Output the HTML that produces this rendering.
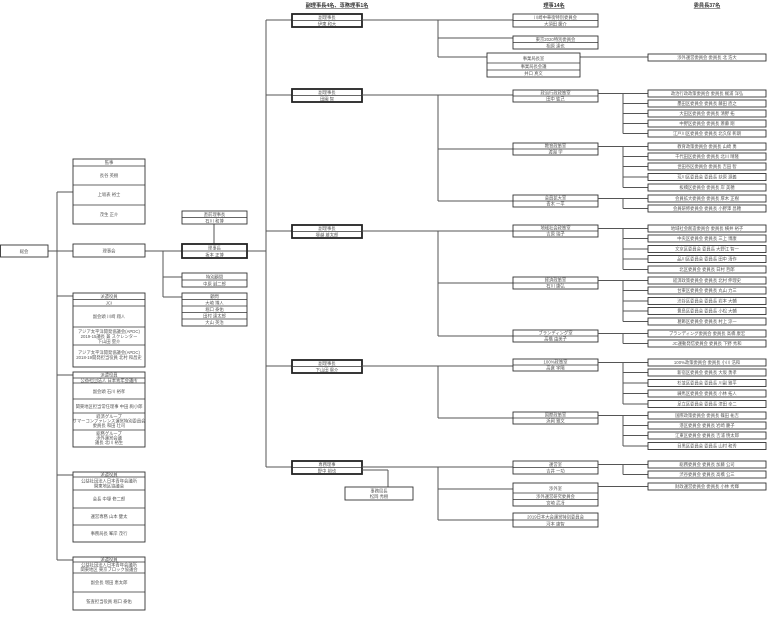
<!DOCTYPE html>
<html><head><meta charset="utf-8"><style>
html,body{margin:0;padding:0;background:#fff;}
svg{display:block;}
text{font-family:"Liberation Sans","Noto Sans CJK JP",sans-serif;font-size:4.3px;fill:#555;text-anchor:middle;}
.h{font-size:5.2px;fill:#333;text-decoration:underline;font-weight:bold;}
.l{stroke:#555;stroke-width:1;fill:none;}
.b{stroke:#333;stroke-width:0.9;fill:#fff;}
.bb{stroke:#222;stroke-width:1.8;fill:#fff;}
.s{stroke:#333;stroke-width:0.7;}
</style></head><body>
<svg width="768" height="626" viewBox="0 0 768 626" xmlns="http://www.w3.org/2000/svg">
<text class="h" x="337" y="7">副理事長4名、専務理事1名</text>
<text class="h" x="554" y="7">理事14名</text>
<text class="h" x="707" y="7">委員長37名</text>

<line class="l" x1="48" y1="251" x2="73" y2="251"/>
<line class="l" x1="57" y1="192" x2="57" y2="560"/>
<line class="l" x1="57" y1="192" x2="73" y2="192"/>
<line class="l" x1="57" y1="296" x2="73" y2="296"/>
<line class="l" x1="57" y1="375" x2="73" y2="375"/>
<line class="l" x1="57" y1="475" x2="73" y2="475"/>
<line class="l" x1="57" y1="560" x2="73" y2="560"/>
<line class="l" x1="145" y1="251" x2="182" y2="251"/>
<line class="l" x1="163" y1="251" x2="163" y2="297"/>
<line class="l" x1="163" y1="277" x2="182" y2="277"/>
<line class="l" x1="163" y1="297" x2="182" y2="297"/>
<line class="l" x1="214" y1="224" x2="214" y2="244"/>
<line class="l" x1="247" y1="251" x2="266" y2="251"/>
<line class="l" x1="266" y1="20" x2="266" y2="467"/>
<line class="l" x1="266" y1="20" x2="292" y2="20"/>
<line class="l" x1="266" y1="95" x2="292" y2="95"/>
<line class="l" x1="266" y1="231" x2="292" y2="231"/>
<line class="l" x1="266" y1="366" x2="292" y2="366"/>
<line class="l" x1="266" y1="467" x2="292" y2="467"/>

<rect class="b" x="0.5" y="245" width="47.5" height="12"/><text x="24" y="253">総会</text>
<rect class="b" x="73" y="159" width="72" height="65"/>
<line class="s" x1="73" y1="166" x2="145" y2="166"/><line class="s" x1="73" y1="185" x2="145" y2="185"/><line class="s" x1="73" y1="205" x2="145" y2="205"/>
<text x="109" y="164">監事</text><text x="109" y="177">長谷 英樹</text><text x="109" y="196">上坂表 裕士</text><text x="109" y="216">茂生 正介</text>
<rect class="b" x="73" y="244" width="72" height="13"/><text x="109" y="252.5">理事会</text>

<rect class="b" x="73" y="293" width="72" height="74"/>
<line class="s" x1="73" y1="299.5" x2="145" y2="299.5"/><line class="s" x1="73" y1="306" x2="145" y2="306"/><line class="s" x1="73" y1="327" x2="145" y2="327"/><line class="s" x1="73" y1="345" x2="145" y2="345"/>
<text x="109" y="298">派遣役員</text><text x="109" y="304.5">JCI</text><text x="109" y="318">副会頭 川﨑 翔人</text>
<text x="109" y="333">アジア太平洋開発協議会(APDC)</text><text x="109" y="338">2019-15議長 兼 スクレンター</text><text x="109" y="343">下山田 塁介</text>
<text x="109" y="354">アジア太平洋開発協議会(APDC)</text><text x="109" y="359">2018-19開発担当役員 北村 和昌史</text>
<rect class="b" x="73" y="372" width="72" height="75"/>
<line class="s" x1="73" y1="378" x2="145" y2="378"/><line class="s" x1="73" y1="383" x2="145" y2="383"/><line class="s" x1="73" y1="399" x2="145" y2="399"/><line class="s" x1="73" y1="413" x2="145" y2="413"/><line class="s" x1="73" y1="430" x2="145" y2="430"/>
<text x="109" y="376.5">派遣役員</text><text x="109" y="382">公益社団法人 日本青年会議所</text><text x="109" y="393">副会頭 石川 裕孝</text>
<text x="109" y="408">関東地区担当常任理事 中田 絢小郎</text>
<text x="109" y="418">経済グループ</text><text x="109" y="422.5">サマーコンファレンス運営特別委員会</text><text x="109" y="427">委員長 和田 壮司</text>
<text x="109" y="435">総務グループ</text><text x="109" y="439.5">渉外運営会議</text><text x="109" y="444">議長 北川 裕生</text>
<rect class="b" x="73" y="472" width="72" height="70"/>
<line class="s" x1="73" y1="477" x2="145" y2="477"/><line class="s" x1="73" y1="490" x2="145" y2="490"/><line class="s" x1="73" y1="508" x2="145" y2="508"/><line class="s" x1="73" y1="525" x2="145" y2="525"/>
<text x="109" y="476">派遣役員</text><text x="109" y="482.5">公益社団法人日本青年会議所</text><text x="109" y="487.5">関東地区協議会</text>
<text x="109" y="500.5">会長 中塚 修二郎</text><text x="109" y="518">運営専務 山本 健太</text><text x="109" y="535">事務局長 峯岸 茂行</text>
<rect class="b" x="73" y="557" width="72" height="53"/>
<line class="s" x1="73" y1="562" x2="145" y2="562"/><line class="s" x1="73" y1="573" x2="145" y2="573"/><line class="s" x1="73" y1="592" x2="145" y2="592"/>
<text x="109" y="561">派遣役員</text><text x="109" y="566.5">公益社団法人日本青年会議所</text><text x="109" y="571">関東地区 東京ブロック協議会</text>
<text x="109" y="584">副会長 増田 恵太郎</text><text x="109" y="603">監査担当役員 堀口 泰佑</text>

<rect class="b" x="182" y="211" width="65" height="13"/><line class="s" x1="182" y1="217.5" x2="247" y2="217.5"/>
<text x="214.5" y="216">直前理事長</text><text x="214.5" y="222.5">石川 和博</text>
<rect class="bb" x="182" y="244" width="65" height="14"/><line class="s" x1="182" y1="251" x2="247" y2="251"/>
<text x="214.5" y="249.5">理事長</text><text x="214.5" y="256.5">坂本 正博</text>
<rect class="b" x="182" y="273" width="65" height="14"/><line class="s" x1="182" y1="280" x2="247" y2="280"/>
<text x="214.5" y="278.5">特別顧問</text><text x="214.5" y="285.5">中原 誠二郎</text>
<rect class="b" x="182" y="293" width="65" height="33"/>
<line class="s" x1="182" y1="299.5" x2="247" y2="299.5"/><line class="s" x1="182" y1="306" x2="247" y2="306"/><line class="s" x1="182" y1="312.5" x2="247" y2="312.5"/><line class="s" x1="182" y1="319" x2="247" y2="319"/>
<text x="214.5" y="298">顧問</text><text x="214.5" y="304.5">大崎 博人</text><text x="214.5" y="311">堀口 泰佑</text><text x="214.5" y="317.5">田村 達太郎</text><text x="214.5" y="324">大山 英治</text>

<g>
<rect class="bb" x="292" y="14" width="70" height="13"/><line class="s" x1="292" y1="20.5" x2="362" y2="20.5"/><text x="327" y="19">副理事長</text><text x="327" y="25.5">伊東 和大</text>
<rect class="bb" x="292" y="89" width="70" height="13"/><line class="s" x1="292" y1="95.5" x2="362" y2="95.5"/><text x="327" y="94">副理事長</text><text x="327" y="100.5">田園 智</text>
<rect class="bb" x="292" y="225" width="70" height="13"/><line class="s" x1="292" y1="231.5" x2="362" y2="231.5"/><text x="327" y="230">副理事長</text><text x="327" y="236.5">塚越 雄太郎</text>
<rect class="bb" x="292" y="360" width="70" height="13"/><line class="s" x1="292" y1="366.5" x2="362" y2="366.5"/><text x="327" y="365">副理事長</text><text x="327" y="371.5">下山田 塁介</text>
<rect class="bb" x="292" y="461" width="70" height="13"/><line class="s" x1="292" y1="467.5" x2="362" y2="467.5"/><text x="327" y="466">専務理事</text><text x="327" y="472.5">野中 裕也</text>
</g>
<line class="l" x1="362" y1="470" x2="388" y2="470"/><line class="l" x1="388" y1="470" x2="388" y2="487"/>
<rect class="b" x="345" y="487" width="68" height="13"/><text x="379" y="492.5">事務局長</text><text x="379" y="498">松岡 秀樹</text>

<line class="l" x1="362" y1="20" x2="513" y2="20"/>
<line class="l" x1="438" y1="20" x2="438" y2="57"/>
<line class="l" x1="438" y1="38" x2="513" y2="38"/>
<line class="l" x1="438" y1="57" x2="487" y2="57"/>
<line class="l" x1="580" y1="57" x2="648" y2="57"/>
<line class="l" x1="362" y1="95" x2="513" y2="95"/><line class="l" x1="438" y1="95" x2="438" y2="201"/>
<line class="l" x1="438" y1="149" x2="513" y2="149"/><line class="l" x1="438" y1="201" x2="513" y2="201"/>
<line class="l" x1="362" y1="231" x2="513" y2="231"/><line class="l" x1="438" y1="231" x2="438" y2="336"/>
<line class="l" x1="438" y1="283" x2="513" y2="283"/><line class="l" x1="438" y1="336" x2="513" y2="336"/>
<line class="l" x1="362" y1="366" x2="513" y2="366"/><line class="l" x1="438" y1="366" x2="438" y2="418"/>
<line class="l" x1="438" y1="418" x2="513" y2="418"/>
<line class="l" x1="362" y1="467" x2="513" y2="467"/><line class="l" x1="438" y1="467" x2="438" y2="520"/>
<line class="l" x1="438" y1="489" x2="513" y2="489"/><line class="l" x1="438" y1="520" x2="513" y2="520"/>

<g>
<rect class="b" x="513" y="14" width="85" height="13"/><line class="s" x1="513" y1="20.5" x2="598" y2="20.5"/><text x="555.5" y="19">川崎中華街特別委員会</text><text x="555.5" y="25.5">大須田 慶介</text>
<rect class="b" x="513" y="36" width="85" height="13"/><line class="s" x1="513" y1="42.5" x2="598" y2="42.5"/><text x="555.5" y="41">東京2020特別委員会</text><text x="555.5" y="47.5">相原 達也</text>
<rect class="b" x="487" y="53" width="93" height="24"/><line class="s" x1="487" y1="63" x2="580" y2="63"/><line class="s" x1="487" y1="70" x2="580" y2="70"/><text x="533.5" y="60">事業局長室</text><text x="533.5" y="68">事業局長会議</text><text x="533.5" y="75">井口 真文</text>
<rect class="b" x="513" y="90" width="85" height="12"/><line class="s" x1="513" y1="96" x2="598" y2="96"/><text x="555.5" y="94.5">政治行政政策室</text><text x="555.5" y="100.5">田中 紘己</text>
<rect class="b" x="513" y="143" width="85" height="12"/><line class="s" x1="513" y1="149" x2="598" y2="149"/><text x="555.5" y="147.5">教育政策室</text><text x="555.5" y="153.5">渡邉 学</text>
<rect class="b" x="513" y="195" width="85" height="12"/><line class="s" x1="513" y1="201" x2="598" y2="201"/><text x="555.5" y="199.5">会員拡大室</text><text x="555.5" y="205.5">青木 一平</text>
<rect class="b" x="513" y="225" width="85" height="12"/><line class="s" x1="513" y1="231" x2="598" y2="231"/><text x="555.5" y="229.5">地域社会政策室</text><text x="555.5" y="235.5">吉原 瑞子</text>
<rect class="b" x="513" y="277" width="85" height="12"/><line class="s" x1="513" y1="283" x2="598" y2="283"/><text x="555.5" y="281.5">経済政策室</text><text x="555.5" y="287.5">石川 康弘</text>
<rect class="b" x="513" y="330" width="85" height="12"/><line class="s" x1="513" y1="336" x2="598" y2="336"/><text x="555.5" y="334.5">ブランディング室</text><text x="555.5" y="340.5">高橋 由美子</text>
<rect class="b" x="513" y="359" width="85" height="12"/><line class="s" x1="513" y1="365" x2="598" y2="365"/><text x="555.5" y="363.5">100%政策室</text><text x="555.5" y="369.5">高倉 宇陽</text>
<rect class="b" x="513" y="412" width="85" height="12"/><line class="s" x1="513" y1="418" x2="598" y2="418"/><text x="555.5" y="416.5">国際政策室</text><text x="555.5" y="422.5">浜岡 雅文</text>
<rect class="b" x="513" y="461" width="85" height="13"/><line class="s" x1="513" y1="467.5" x2="598" y2="467.5"/><text x="555.5" y="466">運営室</text><text x="555.5" y="472.5">吉井 一功</text>
<rect class="b" x="513" y="483" width="85" height="23"/><line class="s" x1="513" y1="493" x2="598" y2="493"/><line class="s" x1="513" y1="499.5" x2="598" y2="499.5"/><text x="555.5" y="490">渉外室</text><text x="555.5" y="498">渉外運営研究委員会</text><text x="555.5" y="504.5">宮崎 武冴</text>
<rect class="b" x="513" y="513" width="85" height="14"/><line class="s" x1="513" y1="520" x2="598" y2="520"/><text x="555.5" y="518.5">2019日本大会運営特別委員会</text><text x="555.5" y="525.5">河本 康智</text>
</g>

<g>
<line class="l" x1="598" y1="93.5" x2="648" y2="93.5"/><line class="l" x1="623" y1="93.5" x2="623" y2="133.5"/>
<line class="l" x1="623" y1="103.5" x2="648" y2="103.5"/><line class="l" x1="623" y1="113.5" x2="648" y2="113.5"/><line class="l" x1="623" y1="123.5" x2="648" y2="123.5"/><line class="l" x1="623" y1="133.5" x2="648" y2="133.5"/>
<line class="l" x1="598" y1="146.5" x2="648" y2="146.5"/><line class="l" x1="623" y1="146.5" x2="623" y2="187.5"/>
<line class="l" x1="623" y1="156.5" x2="648" y2="156.5"/><line class="l" x1="623" y1="166.5" x2="648" y2="166.5"/><line class="l" x1="623" y1="177" x2="648" y2="177"/><line class="l" x1="623" y1="187.5" x2="648" y2="187.5"/>
<line class="l" x1="598" y1="198.5" x2="648" y2="198.5"/><line class="l" x1="623" y1="198.5" x2="623" y2="208.5"/><line class="l" x1="623" y1="208.5" x2="648" y2="208.5"/>
<line class="l" x1="598" y1="228.5" x2="648" y2="228.5"/><line class="l" x1="623" y1="228.5" x2="623" y2="269.5"/>
<line class="l" x1="623" y1="238.5" x2="648" y2="238.5"/><line class="l" x1="623" y1="249" x2="648" y2="249"/><line class="l" x1="623" y1="259" x2="648" y2="259"/><line class="l" x1="623" y1="269.5" x2="648" y2="269.5"/>
<line class="l" x1="598" y1="280.5" x2="648" y2="280.5"/><line class="l" x1="623" y1="280.5" x2="623" y2="321.5"/>
<line class="l" x1="623" y1="290.5" x2="648" y2="290.5"/><line class="l" x1="623" y1="301" x2="648" y2="301"/><line class="l" x1="623" y1="311" x2="648" y2="311"/><line class="l" x1="623" y1="321.5" x2="648" y2="321.5"/>
<line class="l" x1="598" y1="333.5" x2="648" y2="333.5"/><line class="l" x1="623" y1="333.5" x2="623" y2="343.5"/><line class="l" x1="623" y1="343.5" x2="648" y2="343.5"/>
<line class="l" x1="598" y1="362.5" x2="648" y2="362.5"/><line class="l" x1="623" y1="362.5" x2="623" y2="404"/>
<line class="l" x1="623" y1="372.5" x2="648" y2="372.5"/><line class="l" x1="623" y1="383" x2="648" y2="383"/><line class="l" x1="623" y1="393.5" x2="648" y2="393.5"/><line class="l" x1="623" y1="404" x2="648" y2="404"/>
<line class="l" x1="598" y1="415.5" x2="648" y2="415.5"/><line class="l" x1="623" y1="415.5" x2="623" y2="446"/>
<line class="l" x1="623" y1="425.5" x2="648" y2="425.5"/><line class="l" x1="623" y1="435.5" x2="648" y2="435.5"/><line class="l" x1="623" y1="446" x2="648" y2="446"/>
<line class="l" x1="598" y1="464.5" x2="648" y2="464.5"/><line class="l" x1="623" y1="464.5" x2="623" y2="474.5"/><line class="l" x1="623" y1="474.5" x2="648" y2="474.5"/>
<line class="l" x1="598" y1="486.5" x2="648" y2="486.5"/>
</g>

<g>
<rect class="b" x="648" y="54" width="118" height="7"/><text x="707" y="59">渉外運営委員会 委員長 北 浩大</text>
<rect class="b" x="648" y="90" width="118" height="7"/><text x="707" y="95">政治行政政策委員会 委員長 梶浦 洋弘</text>
<rect class="b" x="648" y="100" width="118" height="7"/><text x="707" y="105">墨田区委員会 委員長 藤田 直之</text>
<rect class="b" x="648" y="110" width="118" height="7"/><text x="707" y="115">大田区委員会 委員長 清野 拓</text>
<rect class="b" x="648" y="120" width="118" height="7"/><text x="707" y="125">中野区委員会 委員長 斎藤 剛</text>
<rect class="b" x="648" y="130" width="118" height="7"/><text x="707" y="135">江戸川区委員会 委員長 北久保 彰朗</text>
<rect class="b" x="648" y="143" width="118" height="7"/><text x="707" y="148">教育政策委員会 委員長 山崎 勇</text>
<rect class="b" x="648" y="153" width="118" height="7"/><text x="707" y="158">千代田区委員会 委員長 北川 晴隆</text>
<rect class="b" x="648" y="163" width="118" height="7"/><text x="707" y="168">世田谷区委員会 委員長 吉田 智</text>
<rect class="b" x="648" y="173.5" width="118" height="7"/><text x="707" y="178.5">荒川区委員会 委員長 荻原 源義</text>
<rect class="b" x="648" y="184" width="118" height="7"/><text x="707" y="189">板橋区委員会 委員長 岸 美穂</text>
<rect class="b" x="648" y="195" width="118" height="7"/><text x="707" y="200">会員拡大委員会 委員長 厚木 正樹</text>
<rect class="b" x="648" y="205" width="118" height="7"/><text x="707" y="210">会員研修委員会 委員長 小野澤 昌穂</text>
<rect class="b" x="648" y="225" width="118" height="7"/><text x="707" y="230">地域社会創造委員会 委員長 横井 裕子</text>
<rect class="b" x="648" y="235" width="118" height="7"/><text x="707" y="240">中央区委員会 委員長 三上 博康</text>
<rect class="b" x="648" y="245.5" width="118" height="7"/><text x="707" y="250.5">文京区委員会 委員長 大野江 智一</text>
<rect class="b" x="648" y="255.5" width="118" height="7"/><text x="707" y="260.5">品川区委員会 委員長 田中 清作</text>
<rect class="b" x="648" y="266" width="118" height="7"/><text x="707" y="271">北区委員会 委員長 日村 哲郎</text>
<rect class="b" x="648" y="277" width="118" height="7"/><text x="707" y="282">経済政策委員会 委員長 北村 伸理史</text>
<rect class="b" x="648" y="287" width="118" height="7"/><text x="707" y="292">台東区委員会 委員長 丸山 力三</text>
<rect class="b" x="648" y="297.5" width="118" height="7"/><text x="707" y="302.5">渋谷区委員会 委員長 岩本 大輔</text>
<rect class="b" x="648" y="307.5" width="118" height="7"/><text x="707" y="312.5">豊島区委員会 委員長 小松 大輔</text>
<rect class="b" x="648" y="318" width="118" height="7"/><text x="707" y="323">葛飾区委員会 委員長 村上 涼一</text>
<rect class="b" x="648" y="330" width="118" height="7"/><text x="707" y="335">ブランディング委員会 委員長 高橋 康宏</text>
<rect class="b" x="648" y="340" width="118" height="7"/><text x="707" y="345">JC運動発信委員会 委員長 下野 秀和</text>
<rect class="b" x="648" y="359" width="118" height="7"/><text x="707" y="364">100%政策委員会 委員長 小川 浩和</text>
<rect class="b" x="648" y="369" width="118" height="7"/><text x="707" y="374">新宿区委員会 委員長 大坂 勇孝</text>
<rect class="b" x="648" y="379.5" width="118" height="7"/><text x="707" y="384.5">杉並区委員会 委員長 川副 雅平</text>
<rect class="b" x="648" y="390" width="118" height="7"/><text x="707" y="395">練馬区委員会 委員長 小林 拓人</text>
<rect class="b" x="648" y="400.5" width="118" height="7"/><text x="707" y="405.5">足立区委員会 委員長 津田 幸二</text>
<rect class="b" x="648" y="412" width="118" height="7"/><text x="707" y="417">国際政策委員会 委員長 篠田 祐吉</text>
<rect class="b" x="648" y="422" width="118" height="7"/><text x="707" y="427">港区委員会 委員長 岩崎 慶子</text>
<rect class="b" x="648" y="432" width="118" height="7"/><text x="707" y="437">江東区委員会 委員長 吉浦 慎太郎</text>
<rect class="b" x="648" y="442.5" width="118" height="7"/><text x="707" y="447.5">目黒区委員会 委員長 山村 和秀</text>
<rect class="b" x="648" y="461" width="118" height="7"/><text x="707" y="466">総務委員会 委員長 加藤 公司</text>
<rect class="b" x="648" y="471" width="118" height="7"/><text x="707" y="476">渋谷委員会 委員長 高橋 公三</text>
<rect class="b" x="648" y="483" width="118" height="7"/><text x="707" y="488">財政運営委員会 委員長 小林 秀輝</text>
</g>
</svg>
</body></html>
